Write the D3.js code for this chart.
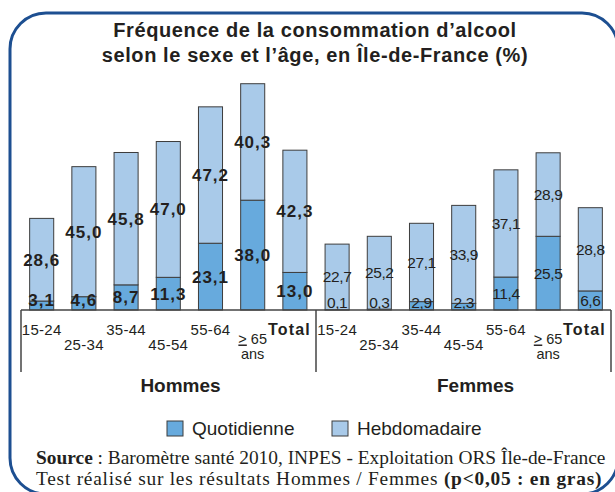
<!DOCTYPE html>
<html>
<head>
<meta charset="utf-8">
<script src="https://cdn.jsdelivr.net/npm/d3@7"></script>
<style>
  body { margin: 0; background: #fff; }
  svg { display: block; }
</style>
</head>
<body>
<svg id="chart" width="615" height="492"></svg>
<script>
// ---- Data ----
const ages = ["15-24", "25-34", "35-44", "45-54", "55-64", "≥ 65 ans", "Total"];
const groups = ["Hommes", "Femmes"];
const hommesQuot = [3.1, 4.6, 8.7, 11.3, 23.1, 38.0, 13.0];
const hommesHebdo = [28.6, 45.0, 45.8, 47.0, 47.2, 40.3, 42.3];
const femmesQuot = [0.1, 0.3, 2.9, 2.3, 11.4, 25.5, 6.6];
const femmesHebdo = [22.7, 25.2, 27.1, 33.9, 37.1, 28.9, 28.8];
const significant = [true, false]; // bold = p<0,05
const series = ["Quotidienne", "Hebdomadaire"];

const colors = { quot: "#67aadd", hebdo: "#a9cae9" };
const ink = "#231f20";

// rows for the stack
const rows = [];
groups.forEach((g, gi) => {
  const q = gi === 0 ? hommesQuot : femmesQuot;
  const h = gi === 0 ? hommesHebdo : femmesHebdo;
  ages.forEach((a, i) => {
    rows.push({ key: g + "|" + a, group: g, gi: gi, age: a, quot: q[i], hebdo: h[i], bold: significant[gi] });
  });
});

const svg = d3.select("#chart");

// frame
svg.append("rect")
  .attr("x", 10).attr("y", 13)
  .attr("width", 608).attr("height", 481)
  .attr("rx", 36).attr("ry", 36)
  .attr("fill", "none")
  .attr("stroke", "#1d4f91")
  .attr("stroke-width", 3);

// title
const title = svg.append("text")
  .attr("text-anchor", "middle")
  .attr("font-family", "Liberation Sans, Arial, sans-serif")
  .attr("font-weight", "bold")
  .attr("font-size", 20)
  .attr("letter-spacing", 0.6)
  .attr("fill", ink);
title.append("tspan").attr("x", 315).attr("y", 37).text("Fréquence de la consommation d’alcool");
title.append("tspan").attr("x", 315).attr("y", 62).text("selon le sexe et l’âge, en Île-de-France (%)");

// ---- Scales ----
const x = d3.scaleBand()
  .domain(rows.map(d => d.key))
  .range([21, 611])
  .paddingInner(0.43)
  .paddingOuter(0.205);

const y = d3.scaleLinear().domain([0, 80]).range([310, 310 - 80 * 2.89]);

const stack = d3.stack().keys(["quot", "hebdo"]);
const stacked = stack(rows);

// bars
svg.append("g").selectAll("g")
  .data(stacked)
  .join("g")
  .attr("fill", d => colors[d.key])
  .selectAll("rect")
  .data(d => d)
  .join("rect")
  .attr("x", d => x(d.data.key))
  .attr("y", d => y(d[1]))
  .attr("width", x.bandwidth())
  .attr("height", d => y(d[0]) - y(d[1]))
  .attr("stroke", "#3d3d3d")
  .attr("stroke-width", 1);

// value labels
stacked.forEach(layer => {
  svg.append("g").selectAll("text")
    .data(layer)
    .join("text")
    .attr("x", d => x(d.data.key) + x.bandwidth() / 2)
    .attr("y", d => {
      let mid = (y(d[0]) + y(d[1])) / 2;
      if (layer.key === "quot") mid = Math.min(mid, y(0) - (d.data.bold ? 10 : 7.5));
      return mid + (d.data.bold ? 6 : 5.5);
    })
    .attr("text-anchor", "middle")
    .attr("font-family", "Liberation Sans, Arial, sans-serif")
    .attr("font-size", d => d.data.bold ? 17 : 15.5)
    .attr("font-weight", d => d.data.bold ? "bold" : "normal")
    .attr("letter-spacing", d => d.data.bold ? 1 : -0.4)
    .attr("fill", ink)
    .text(d => d3.format(".1f")(d.data[layer.key]).replace(".", ","));
});

// ---- Axis ----
const axisY = y(0);
const left = x.range()[0], right = x.range()[1];
const bw = x.bandwidth();
const divider = (x("Hommes|Total") + bw + x("Femmes|15-24")) / 2;
const axis = svg.append("g").attr("stroke", "#444").attr("stroke-width", 1.5);
axis.append("line").attr("x1", left).attr("x2", right).attr("y1", axisY).attr("y2", axisY);
[left, divider, right].forEach(v => {
  axis.append("line").attr("x1", v).attr("x2", v).attr("y1", axisY).attr("y2", axisY + 62);
});

const groupEdges = [[left, divider], [divider, right]];

// category labels (staggered)
const labels = svg.append("g")
  .attr("font-family", "Liberation Sans, Arial, sans-serif")
  .attr("fill", ink);
rows.forEach(d => {
  const i = ages.indexOf(d.age);
  const cx = x(d.key) + bw / 2;
  if (d.age === "Total") {
    labels.append("text")
      .attr("x", groupEdges[d.gi][1] - 5).attr("y", axisY + 24.5)
      .attr("text-anchor", "end")
      .attr("font-size", 16).attr("font-weight", "bold").attr("letter-spacing", 1.2)
      .text("Total");
  } else if (d.age === "≥ 65 ans") {
    const t = labels.append("text")
      .attr("x", cx).attr("y", axisY + 33.5)
      .attr("text-anchor", "middle").attr("font-size", 14.5);
    t.append("tspan").attr("text-decoration", "underline").text(">");
    t.append("tspan").text(" 65");
    labels.append("text")
      .attr("x", cx).attr("y", axisY + 49)
      .attr("text-anchor", "middle").attr("font-size", 14.5)
      .text("ans");
  } else {
    labels.append("text")
      .attr("x", cx).attr("y", axisY + (i % 2 === 0 ? 24.5 : 39.5))
      .attr("text-anchor", "middle").attr("font-size", 15).attr("letter-spacing", 0.3)
      .text(d.age);
  }
});

// group labels
groups.forEach((g, gi) => {
  svg.append("text")
    .attr("x", (groupEdges[gi][0] + groupEdges[gi][1]) / 2 + bw / 2)
    .attr("y", 392)
    .attr("text-anchor", "middle")
    .attr("font-family", "Liberation Sans, Arial, sans-serif")
    .attr("font-size", 19).attr("font-weight", "bold")
    .attr("fill", ink)
    .text(g);
});

// ---- Legend ----
const legendX = [167, 332];
series.forEach((s, i) => {
  const lg = svg.append("g").attr("transform", `translate(${legendX[i]},421)`);
  lg.append("rect")
    .attr("width", 16).attr("height", 15)
    .attr("fill", i === 0 ? colors.quot : colors.hebdo)
    .attr("stroke", "#3d3d3d").attr("stroke-width", 1);
  lg.append("text")
    .attr("x", 25).attr("y", 14)
    .attr("font-family", "Liberation Sans, Arial, sans-serif")
    .attr("font-size", 19)
    .attr("fill", ink)
    .text(s);
});

// ---- Source ----
const src = svg.append("g")
  .attr("font-family", "Liberation Serif, Times New Roman, serif")
  .attr("font-size", 19.4)
  .attr("fill", ink);
const s1 = src.append("text").attr("x", 36).attr("y", 464);
s1.append("tspan").attr("font-weight", "bold").text("Source");
s1.append("tspan").text(" : Baromètre santé 2010, INPES - Exploitation ORS Île-de-France");
const s2 = src.append("text").attr("x", 36).attr("y", 485);
s2.append("tspan").text("Test réalisé sur les résultats Hommes / Femmes ");
s2.append("tspan").attr("font-weight", "bold").text("(p<0,05 : en gras)");
// second line is justified to the width of the first one
const w1 = s1.node().getComputedTextLength();
if (s2.node().getComputedTextLength() < w1) {
  s2.attr("textLength", w1 - 4).attr("lengthAdjust", "spacing");
}
</script>
</body>
</html>
